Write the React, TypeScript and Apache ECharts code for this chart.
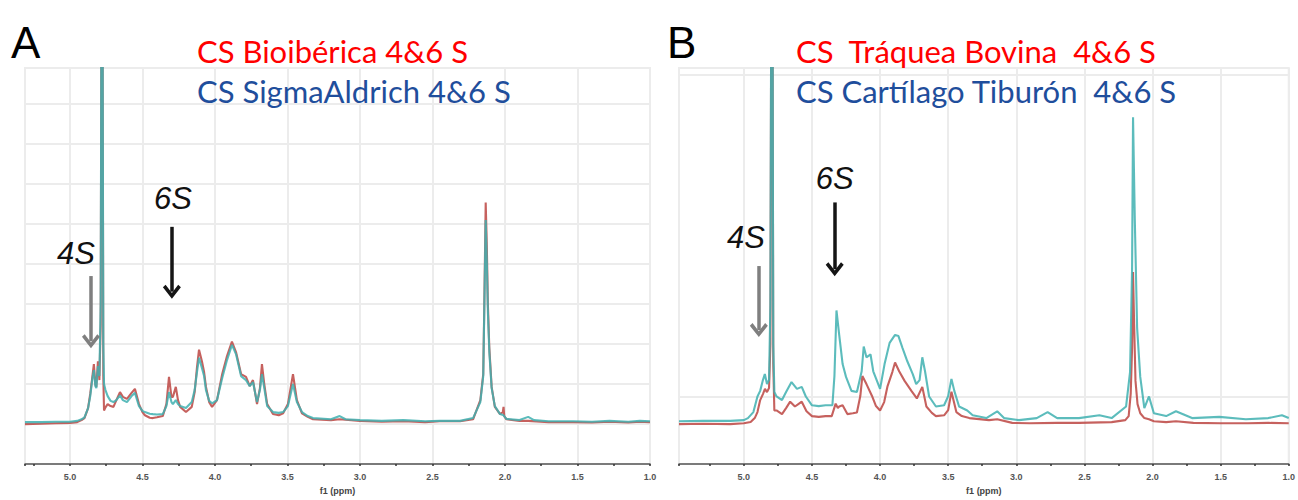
import React, { useEffect, useRef } from "react";
import * as echarts from "echarts";

// ---------- data (ppm, relative intensity) ----------
const specA_red: number[][] = [
  [5.31, 0.0], [5.2, 0.01], [5.1, 0.02], [5.0, 0.03], [4.95, 0.05], [4.92, 0.1], [4.9, 0.15], [4.875, 0.4],
  [4.86, 0.76], [4.845, 1.2], [4.835, 1.5], [4.825, 1.0], [4.818, 0.93], [4.807, 1.57], [4.797, 1.1],
  [4.788, 2.5], [4.782, 12], [4.776, 12], [4.77, 1.2], [4.765, 0.34], [4.755, 0.42], [4.74, 0.5],
  [4.72, 0.45], [4.7, 0.43], [4.68, 0.6], [4.655, 0.8], [4.635, 0.68], [4.607, 0.63], [4.575, 0.78],
  [4.552, 0.88], [4.524, 0.5], [4.5, 0.3], [4.483, 0.22], [4.45, 0.16], [4.428, 0.15], [4.4, 0.17],
  [4.36, 0.2], [4.335, 0.5], [4.317, 1.18], [4.3, 0.68], [4.29, 0.68], [4.27, 0.93], [4.255, 0.6],
  [4.24, 0.43], [4.2, 0.3], [4.16, 0.43], [4.14, 0.8], [4.124, 1.42], [4.11, 1.86], [4.09, 1.57],
  [4.075, 1.3], [4.062, 0.93], [4.04, 0.55], [4.02, 0.43], [3.986, 0.6], [3.95, 1.25], [3.917, 1.7],
  [3.883, 2.06], [3.855, 1.8], [3.82, 1.25], [3.786, 1.18], [3.76, 0.95], [3.738, 1.1], [3.71, 0.5],
  [3.69, 0.9], [3.676, 1.5], [3.66, 1.0], [3.64, 0.5], [3.6, 0.25], [3.56, 0.22], [3.53, 0.27],
  [3.497, 0.5], [3.462, 1.25], [3.435, 0.6], [3.4, 0.27], [3.36, 0.18], [3.324, 0.12], [3.2, 0.1],
  [3.14, 0.12], [3.0, 0.08], [2.85, 0.06], [2.7, 0.07], [2.55, 0.05], [2.45, 0.07], [2.31, 0.07],
  [2.22, 0.12], [2.17, 0.6], [2.15, 1.25], [2.143, 2.9], [2.133, 5.54], [2.125, 4.4], [2.118, 3.0],
  [2.108, 1.9], [2.092, 0.93], [2.07, 0.43], [2.034, 0.25], [2.015, 0.3], [2.01, 0.43], [2.005, 0.2],
  [1.99, 0.12], [1.9, 0.08], [1.84, 0.08], [1.7, 0.05], [1.53, 0.05], [1.4, 0.04], [1.28, 0.06],
  [1.15, 0.04], [1.07, 0.06], [1.0, 0.05],
];

const specA_teal: number[][] = [
  [5.31, 0.05], [5.2, 0.05], [5.1, 0.06], [5.0, 0.06], [4.95, 0.08], [4.92, 0.12], [4.9, 0.17], [4.875, 0.4],
  [4.86, 0.7], [4.845, 1.15], [4.835, 1.35], [4.825, 0.95], [4.818, 0.9], [4.807, 1.45], [4.797, 1.2],
  [4.788, 3.0], [4.782, 12], [4.776, 12], [4.77, 2.0], [4.765, 1.0], [4.755, 0.85], [4.74, 0.7],
  [4.72, 0.58], [4.7, 0.55], [4.68, 0.6], [4.655, 0.72], [4.635, 0.6], [4.607, 0.55], [4.575, 0.7],
  [4.552, 0.78], [4.524, 0.45], [4.5, 0.33], [4.483, 0.3], [4.45, 0.26], [4.428, 0.25], [4.4, 0.24],
  [4.36, 0.25], [4.335, 0.45], [4.317, 0.8], [4.3, 0.55], [4.29, 0.5], [4.27, 0.6], [4.255, 0.5],
  [4.24, 0.45], [4.2, 0.4], [4.16, 0.55], [4.14, 0.85], [4.124, 1.3], [4.11, 1.66], [4.09, 1.4],
  [4.075, 1.2], [4.062, 0.85], [4.04, 0.58], [4.02, 0.52], [3.986, 0.6], [3.95, 1.15], [3.917, 1.6],
  [3.883, 1.98], [3.855, 1.75], [3.82, 1.2], [3.786, 1.1], [3.76, 0.95], [3.738, 1.05], [3.71, 0.55],
  [3.69, 0.85], [3.676, 1.25], [3.66, 0.9], [3.64, 0.45], [3.6, 0.3], [3.56, 0.28], [3.53, 0.3],
  [3.497, 0.45], [3.462, 1.0], [3.435, 0.55], [3.4, 0.3], [3.36, 0.2], [3.324, 0.15], [3.2, 0.12],
  [3.14, 0.2], [3.1, 0.12], [3.0, 0.1], [2.85, 0.08], [2.7, 0.1], [2.55, 0.07], [2.45, 0.08],
  [2.31, 0.08], [2.22, 0.15], [2.17, 0.55], [2.15, 1.2], [2.143, 2.8], [2.133, 5.1], [2.125, 4.0],
  [2.118, 2.8], [2.108, 1.8], [2.092, 0.9], [2.07, 0.45], [2.034, 0.25], [2.01, 0.22], [1.99, 0.13],
  [1.9, 0.1], [1.84, 0.18], [1.8, 0.1], [1.7, 0.07], [1.53, 0.07], [1.4, 0.06], [1.28, 0.08],
  [1.15, 0.06], [1.07, 0.08], [1.0, 0.07],
];

const specB_red: number[][] = [
  [5.476, 0.0], [5.3, 0.01], [5.1, 0.0], [5.0, 0.02], [4.95, 0.05], [4.92, 0.15], [4.9, 0.3], [4.88, 0.6],
  [4.86, 0.75], [4.845, 0.88], [4.83, 0.8], [4.815, 0.9], [4.805, 2.0], [4.798, 12], [4.79, 12],
  [4.784, 1.5], [4.776, 0.34], [4.76, 0.34], [4.72, 0.25], [4.69, 0.4], [4.66, 0.56], [4.625, 0.44],
  [4.6, 0.5], [4.575, 0.56], [4.54, 0.32], [4.5, 0.2], [4.45, 0.18], [4.4, 0.2], [4.355, 0.2],
  [4.326, 0.51], [4.31, 0.4], [4.3, 0.44], [4.275, 0.47], [4.24, 0.25], [4.2, 0.27], [4.17, 0.29],
  [4.145, 0.7], [4.13, 1.2], [4.1, 1.0], [4.06, 0.71], [4.03, 0.45], [4.0, 0.34], [3.97, 0.55],
  [3.945, 0.95], [3.91, 1.3], [3.89, 1.54], [3.86, 1.32], [3.82, 1.08], [3.77, 0.83], [3.73, 0.64],
  [3.69, 0.93], [3.66, 0.44], [3.62, 0.28], [3.59, 0.2], [3.53, 0.22], [3.5, 0.35], [3.476, 0.81],
  [3.44, 0.3], [3.4, 0.2], [3.345, 0.15], [3.2, 0.1], [3.14, 0.12], [3.03, 0.03], [2.9, 0.02],
  [2.7, 0.03], [2.54, 0.03], [2.3, 0.05], [2.2, 0.1], [2.175, 0.2], [2.16, 0.76], [2.15, 1.9],
  [2.143, 3.8], [2.135, 2.5], [2.125, 1.08], [2.11, 0.5], [2.09, 0.27], [2.06, 0.15], [2.026, 0.12],
  [1.99, 0.07], [1.9, 0.05], [1.828, 0.07], [1.7, 0.03], [1.5, 0.02], [1.3, 0.02], [1.15, 0.03],
  [1.0, 0.02],
];

const specB_teal: number[][] = [
  [5.476, 0.07], [5.3, 0.08], [5.1, 0.08], [5.0, 0.1], [4.97, 0.15], [4.93, 0.3], [4.9, 0.69], [4.88, 0.83],
  [4.86, 1.1], [4.846, 1.25], [4.83, 1.0], [4.815, 1.1], [4.805, 3.0], [4.798, 12], [4.79, 12],
  [4.784, 2.0], [4.776, 0.8], [4.76, 0.69], [4.72, 0.6], [4.69, 0.8], [4.65, 1.05], [4.61, 0.88],
  [4.575, 0.93], [4.545, 0.69], [4.5, 0.47], [4.45, 0.45], [4.4, 0.47], [4.35, 0.47], [4.335, 1.2],
  [4.32, 2.84], [4.3, 2.23], [4.275, 1.5], [4.25, 1.18], [4.21, 0.83], [4.17, 0.8], [4.135, 1.32],
  [4.12, 1.94], [4.1, 1.67], [4.07, 1.74], [4.05, 1.32], [4.0, 0.88], [3.967, 1.5], [3.93, 2.03],
  [3.89, 2.23], [3.865, 2.2], [3.835, 1.9], [3.8, 1.57], [3.76, 1.25], [3.735, 1.0], [3.71, 1.1],
  [3.69, 1.67], [3.67, 1.32], [3.64, 0.69], [3.59, 0.44], [3.53, 0.47], [3.5, 0.7], [3.476, 1.13],
  [3.455, 0.83], [3.42, 0.44], [3.36, 0.34], [3.32, 0.22], [3.22, 0.15], [3.14, 0.32], [3.09, 0.15],
  [2.98, 0.1], [2.85, 0.15], [2.77, 0.3], [2.7, 0.15], [2.54, 0.15], [2.39, 0.22], [2.3, 0.15],
  [2.194, 0.44], [2.165, 1.3], [2.15, 3.9], [2.143, 7.67], [2.13, 5.1], [2.113, 2.4], [2.09, 1.18],
  [2.06, 0.4], [2.026, 0.69], [1.99, 0.27], [1.9, 0.2], [1.828, 0.32], [1.71, 0.15], [1.51, 0.18],
  [1.315, 0.12], [1.15, 0.15], [1.05, 0.22], [1.0, 0.15],
];

// annotation arrows: [ppm, from intensity, to intensity]
const arrowsA = { s4: [4.855, 3.7, 2.07], s6: [4.297, 4.93, 3.31] };
const arrowsB = { s4: [4.89, 3.95, 2.35], s6: [4.333, 5.54, 3.87] };
// annotation labels: [ppm, intensity]
const labelsA = { s4: [4.959, 4.26], s6: [4.29, 5.64] };
const labelsB = { s4: [4.985, 4.66], s6: [4.333, 6.15] };
// sparse gridlines in panel B
const gridLinesB = [0.69, 8.72];

const legendA = ["CS Bioibérica 4&6 S", "CS SigmaAldrich 4&6 S"];
const legendB = ["CS  Tráquea Bovina  4&6 S", "CS Cartílago Tiburón  4&6 S"];

const RED = "#c0504d";
const TEAL = "#3fb0b0";
const GRID = "#ececec";
const CHEVRON = "path://M10,0 L20,11 L17,13.5 L10,5.5 L3,13.5 L0,11 Z";

function xAxisCfg(gridIndex: number, max: number) {
  return {
    type: "value",
    gridIndex,
    min: 1.0,
    max,
    interval: 0.5,
    inverse: true,
    name: "f1 (ppm)",
    nameLocation: "middle",
    nameGap: 21,
    nameTextStyle: { fontSize: 9, color: "#444", fontFamily: "Liberation Sans", fontWeight: "bold" },
    axisLine: { show: true, onZero: false, lineStyle: { color: "#555", width: 1.5 } },
    axisTick: { show: true, length: 2, lineStyle: { color: "#333", width: 1.5 } },
    minorTick: { show: true, splitNumber: 2, length: 2, lineStyle: { color: "#333", width: 1.5 } },
    axisLabel: {
      fontSize: 9,
      color: "#555",
      fontWeight: "bold",
      fontFamily: "Liberation Sans",
      margin: 8,
      showMaxLabel: false,
      formatter: (v: number) => v.toFixed(1),
    },
    splitLine: { show: true, lineStyle: { color: GRID, width: 2 } },
  };
}

function yAxisCfg(gridIndex: number, split: boolean) {
  return {
    type: "value",
    gridIndex,
    min: -1,
    max: 8.9,
    interval: 1,
    axisLine: { show: false },
    axisTick: { show: false },
    axisLabel: { show: false },
    splitLine: { show: split, lineStyle: { color: GRID, width: 2 } },
  };
}

function spectrum(data: number[][], color: string, idx: number, opacity: number) {
  return {
    type: "line",
    xAxisIndex: idx,
    yAxisIndex: idx,
    data,
    showSymbol: false,
    symbol: "none",
    clip: true,
    silent: true,
    lineStyle: { color, width: 2.1, opacity },
    z: 2,
  };
}

function annotations(idx: number, arrows: any, labels: any) {
  const arrowLine = (a: number[], color: string, width: number) => [
    { coord: [a[0], a[1]], lineStyle: { color, width, type: "solid" } },
    { coord: [a[0], a[2]] },
  ];
  const lbl = (p: number[], text: string) => ({
    coord: p,
    symbol: "rect",
    symbolSize: 2,
    itemStyle: { color: "rgba(0,0,0,0)" },
    label: {
      show: true,
      position: "inside",
      formatter: text,
      fontSize: 31,
      fontStyle: "italic",
      fontFamily: "Liberation Sans",
      color: "#111",
    },
  });
  return {
    type: "line",
    xAxisIndex: idx,
    yAxisIndex: idx,
    data: [],
    silent: true,
    z: 5,
    markLine: {
      silent: true,
      symbol: ["none", CHEVRON],
      symbolSize: [18, 14],
      label: { show: false },
      emphasis: { disabled: true },
      data: [arrowLine(arrows.s4, "#7f7f7f", 3.5), arrowLine(arrows.s6, "#151515", 3.5)],
    },
    markPoint: {
      silent: true,
      data: [lbl(labels.s4, "4S"), lbl(labels.s6, "6S")],
    },
  };
}

function text(x: number, y: number, t: string, fill: string, size: number, family: string) {
  return {
    type: "text",
    x,
    y,
    z: 100,
    silent: true,
    style: {
      text: t,
      fill,
      fontSize: size,
      fontFamily: family,
      textAlign: "left",
      textVerticalAlign: "middle",
    },
  };
}

export default function App() {
  const ref = useRef<HTMLDivElement>(null);
  useEffect(() => {
    document.body.style.margin = "0";
    const chart = echarts.init(ref.current!, null, { renderer: "svg" });
    const option: any = {
      animation: false,
      backgroundColor: "#ffffff",
      grid: [
        { left: 25, top: 68, width: 625, height: 404, show: true, borderColor: GRID, borderWidth: 2 },
        { left: 679, top: 68, width: 611, height: 404, show: true, borderColor: GRID, borderWidth: 2 },
      ],
      xAxis: [xAxisCfg(0, 5.31), xAxisCfg(1, 5.476)],
      yAxis: [yAxisCfg(0, true), yAxisCfg(1, false)],
      series: [
        spectrum(specA_red, RED, 0, 0.9),
        spectrum(specA_teal, TEAL, 0, 0.85),
        spectrum(specB_red, RED, 1, 0.9),
        spectrum(specB_teal, TEAL, 1, 0.85),
        {
          type: "line",
          xAxisIndex: 1,
          yAxisIndex: 1,
          data: [],
          silent: true,
          markLine: {
            silent: true,
            symbol: "none",
            z: 1,
            label: { show: false },
            lineStyle: { color: GRID, width: 2, type: "solid" },
            data: gridLinesB.map((v) => ({ yAxis: v })),
          },
        },
        annotations(0, arrowsA, labelsA),
        annotations(1, arrowsB, labelsB),
      ],
      graphic: {
        elements: [
          text(11, 42, "A", "#000", 44, "Liberation Sans"),
          text(667, 42, "B", "#000", 44, "Liberation Sans"),
          text(197, 51, legendA[0], "#ff0000", 31, "Lato"),
          text(197, 91, legendA[1], "#1f4e9c", 31, "Lato"),
          text(796, 51, legendB[0], "#ff0000", 31, "Lato"),
          text(796, 91, legendB[1], "#1f4e9c", 31, "Lato"),
        ],
      },
    };
    chart.setOption(option);
    return () => chart.dispose();
  }, []);
  return <div ref={ref} style={{ width: 1298, height: 500 }} />;
}
